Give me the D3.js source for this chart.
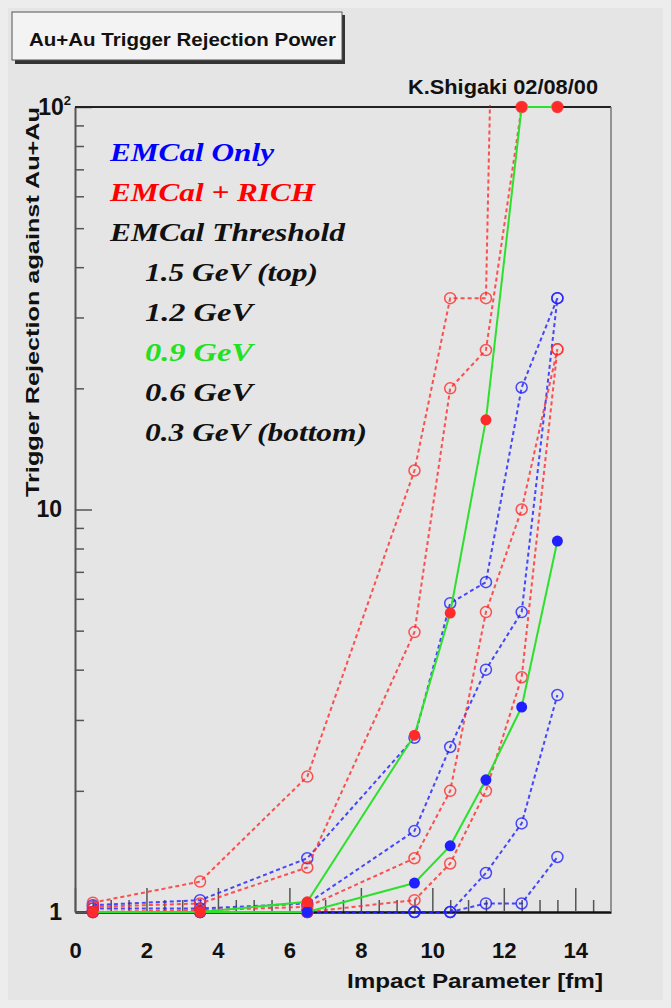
<!DOCTYPE html>
<html>
<head>
<meta charset="utf-8">
<script src="https://cdn.jsdelivr.net/npm/d3@7"></script>
<style>
  body { margin: 0; background: #ededed; }
  text { font-family: "Liberation Sans", Arial, Helvetica, sans-serif; font-weight: bold; fill: #111; }
  .legend text { font-family: "Liberation Serif", "Times New Roman", serif; font-style: italic; font-weight: bold; }
</style>
</head>
<body>
<div id="chart"></div>
<script>
// Data
const impactParameter = [0.5, 3.5, 6.5, 9.5, 10.5, 11.5, 12.5, 13.5];

// EMCal only, one array per threshold
const emcal15 = [1.04, 1.07, 1.36, 2.71, 5.85, 6.6, 20.1, 33.5];
const emcal12 = [1.02, 1.02, 1.05, 1.59, 2.57, 4.0, 5.56, 33.5];
const emcal09 = [1.0, 1.0, 1.0, 1.18, 1.46, 2.13, 3.23, 8.35];
const emcal06 = [1.0, 1.0, 1.0, 1.0, 1.0, 1.25, 1.66, 3.46];
const emcal03 = [1.0, 1.0, 1.0, 1.0, 1.0, 1.05, 1.05, 1.37];

// EMCal + RICH
const rich15 = [1.055, 1.19, 2.17, 12.5, 33.5, 33.5, 600000, 600000];
const rich12 = [1.03, 1.05, 1.29, 4.96, 20, 24.9, 100, 100];
const rich09 = [1.0, 1.0, 1.06, 2.75, 5.53, 16.7, 100, 100];
const rich06 = [1.0, 1.01, 1.03, 1.36, 2.0, 5.56, 10, 25];
const rich03 = [1.0, 1.0, 1.0, 1.07, 1.32, 2.0, 3.83, 25];

const xTickValues = [0, 2, 4, 6, 8, 10, 12, 14];
const yTickValues = [1, 10, 100];
const yMinorValues = [2, 3, 4, 5, 6, 7, 8, 9, 20, 30, 40, 50, 60, 70, 80, 90];

const legendLines = [
  { text: "EMCal Only", color: "#0000ff", indent: false, len: 164 },
  { text: "EMCal + RICH", color: "#ff0000", indent: false, len: 205 },
  { text: "EMCal Threshold", color: "#111", indent: false, len: 235 },
  { text: "1.5 GeV (top)", color: "#111", indent: true, len: 173 },
  { text: "1.2 GeV", color: "#111", indent: true, len: 108 },
  { text: "0.9 GeV", color: "#22e022", indent: true, len: 108 },
  { text: "0.6 GeV", color: "#111", indent: true, len: 108 },
  { text: "0.3 GeV (bottom)", color: "#111", indent: true, len: 222 },
];

function draw() {
  // Dimensions
  const dimensions = {
    width: 671,
    height: 1008,
    left: 75,
    right: 611,
    top: 107,
    bottom: 912,
  };

  const BLUE = "#1f1fff";
  const RED = "#ff2a2a";
  const GREEN = "#2ee02e";

  // series table (drawing order: dashed first, green last)
  const series = [
    { values: emcal15, color: BLUE, dashed: true, filled: false },
    { values: emcal12, color: BLUE, dashed: true, filled: false },
    { values: emcal06, color: BLUE, dashed: true, filled: false },
    { values: emcal03, color: BLUE, dashed: true, filled: false },
    { values: rich15, color: RED, dashed: true, filled: false },
    { values: rich12, color: RED, dashed: true, filled: false },
    { values: rich06, color: RED, dashed: true, filled: false },
    { values: rich03, color: RED, dashed: true, filled: false },
    { values: emcal09, color: BLUE, dashed: false, filled: true },
    { values: rich09, color: RED, dashed: false, filled: true },
  ];

  const svg = d3
    .select("#chart")
    .append("svg")
    .attr("width", dimensions.width)
    .attr("height", dimensions.height);

  svg
    .append("rect")
    .attr("x", 8)
    .attr("y", 8)
    .attr("width", 655)
    .attr("height", 992)
    .attr("fill", "#e5e5e5");

  // Scales
  const xScale = d3
    .scaleLinear()
    .domain([0, 15])
    .range([dimensions.left, dimensions.right]);

  const yScale = d3
    .scaleLog()
    .domain([1, 100])
    .range([dimensions.bottom, dimensions.top]);

  // Title box
  svg
    .append("rect")
    .attr("x", 15)
    .attr("y", 15)
    .attr("width", 330)
    .attr("height", 49)
    .attr("fill", "#333");
  svg
    .append("rect")
    .attr("x", 12)
    .attr("y", 12)
    .attr("width", 330)
    .attr("height", 48)
    .attr("fill", "#f3f3f3")
    .attr("stroke", "#555")
    .attr("stroke-width", 1);
  svg
    .append("text")
    .attr("x", 29)
    .attr("y", 46)
    .attr("font-size", 19)
    .attr("textLength", 307)
    .attr("lengthAdjust", "spacingAndGlyphs")
    .text("Au+Au Trigger Rejection Power");

  svg
    .append("text")
    .attr("x", 408)
    .attr("y", 94)
    .attr("font-size", 20)
    .attr("textLength", 190)
    .attr("lengthAdjust", "spacingAndGlyphs")
    .text("K.Shigaki 02/08/00");

  // Axes
  const xMinor = d3.range(0.5, 15, 0.5).filter((v) => v % 2 !== 0);

  svg
    .append("g")
    .attr("transform", `translate(0, ${dimensions.bottom})`)
    .call(d3.axisBottom(xScale).tickValues(xMinor).tickSize(-12).tickSizeOuter(0).tickFormat(""))
    .call((g) => g.select(".domain").remove())
    .call((g) => g.selectAll("line").attr("stroke", "#555").attr("stroke-width", 1.5));

  const xAxisGroup = svg
    .append("g")
    .attr("transform", `translate(0, ${dimensions.bottom})`)
    .call(
      d3.axisBottom(xScale).tickValues(xTickValues).tickSize(-24).tickSizeOuter(0).tickPadding(30)
    );
  xAxisGroup.selectAll("line").attr("stroke", "#555").attr("stroke-width", 1.5);
  xAxisGroup.select(".domain").attr("stroke", "#111").attr("stroke-width", 2.5);
  xAxisGroup
    .selectAll("text")
    .attr("font-size", 22)
    .attr("font-family", "'Liberation Sans', Arial, sans-serif")
    .attr("fill", "#111");

  svg
    .append("g")
    .attr("transform", `translate(${dimensions.left}, 0)`)
    .call(d3.axisLeft(yScale).tickValues(yMinorValues).tickSize(-9).tickSizeOuter(0).tickFormat(""))
    .call((g) => g.select(".domain").remove())
    .call((g) => g.selectAll("line").attr("stroke", "#555").attr("stroke-width", 1.5));

  const yAxisGroup = svg
    .append("g")
    .attr("transform", `translate(${dimensions.left}, 0)`)
    .call(
      d3
        .axisLeft(yScale)
        .tickValues(yTickValues)
        .tickSize(-17)
        .tickSizeOuter(0)
        .tickPadding(13)
        .tickFormat((d) => (d === 100 ? "10" : String(d)))
    );
  yAxisGroup.selectAll("line").attr("stroke", "#555").attr("stroke-width", 1.5);
  yAxisGroup.select(".domain").attr("stroke", "#555").attr("stroke-width", 2);
  yAxisGroup
    .selectAll("text")
    .attr("font-size", 23)
    .attr("font-family", "'Liberation Sans', Arial, sans-serif")
    .attr("fill", "#111");
  yAxisGroup
    .selectAll(".tick text")
    .filter((d) => d === 100)
    .attr("x", -4)
    .append("tspan")
    .attr("dy", "-0.75em")
    .attr("font-size", 13)
    .text("2");

  // frame top / right
  svg
    .append("line")
    .attr("x1", dimensions.left)
    .attr("x2", dimensions.right)
    .attr("y1", dimensions.top)
    .attr("y2", dimensions.top)
    .attr("stroke", "#222")
    .attr("stroke-width", 2);
  svg
    .append("line")
    .attr("x1", dimensions.right)
    .attr("x2", dimensions.right)
    .attr("y1", dimensions.top)
    .attr("y2", dimensions.bottom)
    .attr("stroke", "#777")
    .attr("stroke-width", 1.5);

  // Axis titles
  svg
    .append("text")
    .attr("x", 603)
    .attr("y", 988)
    .attr("text-anchor", "end")
    .attr("font-size", 21)
    .attr("textLength", 256)
    .attr("lengthAdjust", "spacingAndGlyphs")
    .text("Impact Parameter [fm]");

  svg
    .append("text")
    .attr("transform", "rotate(-90)")
    .attr("x", -497)
    .attr("y", 39)
    .attr("font-size", 18)
    .attr("textLength", 390)
    .attr("lengthAdjust", "spacingAndGlyphs")
    .text("Trigger Rejection against Au+Au");

  // Curves
  svg
    .append("clipPath")
    .attr("id", "plot-clip")
    .append("rect")
    .attr("x", dimensions.left)
    .attr("y", dimensions.top - 2)
    .attr("width", dimensions.right - dimensions.left)
    .attr("height", dimensions.bottom - dimensions.top + 10);

  const line = d3
    .line()
    .x((d, i) => xScale(impactParameter[i]))
    .y((d) => yScale(d));

  const curves = svg.append("g");

  series.forEach((s) => {
    curves
      .append("path")
      .attr("clip-path", "url(#plot-clip)")
      .attr("d", line(s.values))
      .attr("fill", "none")
      .attr("stroke", s.dashed ? s.color : GREEN)
      .attr("stroke-width", 2)
      .attr("stroke-opacity", s.dashed ? 0.8 : 1)
      .attr("stroke-dasharray", s.dashed ? "4,3" : null);

    curves
      .append("g")
      .selectAll("circle")
      .data(s.values.map((v, i) => ({ x: impactParameter[i], y: v })).filter((d) => d.y <= 100))
      .join("circle")
      .attr("cx", (d) => xScale(d.x))
      .attr("cy", (d) => yScale(d.y))
      .attr("r", s.filled ? 5.5 : 5.5)
      .attr("fill", s.filled ? s.color : "none")
      .attr("stroke", s.color)
      .attr("stroke-opacity", s.filled ? 1 : 0.8)
      .attr("stroke-width", s.filled ? 0 : 1.5);
  });

  // Legend
  const legend = svg.append("g").classed("legend", true);
  legend
    .selectAll("text")
    .data(legendLines)
    .join("text")
    .attr("x", (d) => (d.indent ? 145 : 110))
    .attr("y", (d, i) => 161 + i * 40)
    .attr("font-size", 26)
    .attr("textLength", (d) => d.len)
    .attr("lengthAdjust", "spacingAndGlyphs")
    .style("fill", (d) => d.color)
    .text((d) => d.text);
}

draw();
</script>
</body>
</html>
